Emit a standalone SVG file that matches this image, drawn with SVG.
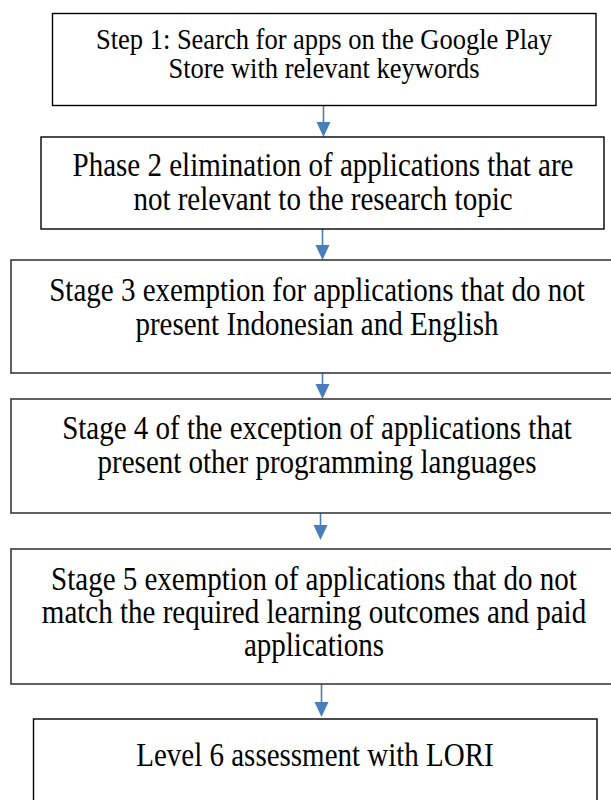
<svg xmlns="http://www.w3.org/2000/svg" width="611" height="800" viewBox="0 0 611 800">
<style>
.box{fill:#fff;stroke:#000;stroke-width:1.4}
.box2{fill:#fff;stroke:#3a3a3a;stroke-width:1.6}
text{font-family:'Liberation Serif','Times New Roman',serif;fill:#000;text-anchor:middle}
.s1{font-size:26.5px}
.s2{font-size:29px}
.conn{stroke:#4a7ebb;stroke-width:1.6;fill:none}
.head{fill:#4a7ebb}
</style>
<rect width="611" height="800" fill="#fff"/>
<g id="connectors">
<line class="conn" x1="323.5" y1="106" x2="323.5" y2="124"/>
<path class="head" d="M316.5,122 L330.5,122 L323.5,137 Z"/>
<line class="conn" x1="322.5" y1="229" x2="322.5" y2="247"/>
<path class="head" d="M315.5,245 L329.5,245 L322.5,260 Z"/>
<line class="conn" x1="322.5" y1="367" x2="322.5" y2="386"/>
<path class="head" d="M315.5,384 L329.5,384 L322.5,399 Z"/>
<line class="conn" x1="320.5" y1="507" x2="320.5" y2="527"/>
<path class="head" d="M313.5,525 L327.5,525 L320.5,540 Z"/>
<line class="conn" x1="321.5" y1="683" x2="321.5" y2="704"/>
<path class="head" d="M314.5,702 L328.5,702 L321.5,717 Z"/>
</g>
<g id="step1">
<rect class="box" x="52.5" y="13.5" width="543.5" height="92"/>
<text class="s1" transform="translate(324,49) scale(1,1.13)">Step 1: Search for apps on the Google Play</text>
<text class="s1" transform="translate(324,78) scale(1,1.13)">Store with relevant keywords</text>
</g>
<g id="phase2">
<rect class="box" x="41" y="137" width="563" height="92"/>
<text class="s2" transform="translate(323,176) scale(1,1.13)">Phase 2 elimination of applications that are</text>
<text class="s2" transform="translate(323,210) scale(1,1.13)">not relevant to the research topic</text>
</g>
<g id="stage3">
<rect class="box2" x="11" y="260" width="630" height="113"/>
<text class="s2" transform="translate(317,301) scale(1,1.13)">Stage 3 exemption for applications that do not</text>
<text class="s2" transform="translate(317,335) scale(1,1.13)">present Indonesian and English</text>
</g>
<g id="stage4">
<rect class="box2" x="11" y="399" width="630" height="114"/>
<text class="s2" transform="translate(317,439) scale(1,1.13)">Stage 4 of the exception of applications that</text>
<text class="s2" transform="translate(317,473) scale(1,1.13)">present other programming languages</text>
</g>
<g id="stage5">
<rect class="box2" x="11" y="549" width="630" height="135"/>
<text class="s2" transform="translate(314,590) scale(1,1.13)">Stage 5 exemption of applications that do not</text>
<text class="s2" transform="translate(314,623) scale(1,1.13)">match the required learning outcomes and paid</text>
<text class="s2" transform="translate(314,656) scale(1,1.13)">applications</text>
</g>
<g id="level6">
<rect class="box" x="33.5" y="719" width="563.5" height="100"/>
<text class="s2" transform="translate(315,766) scale(1,1.13)">Level 6 assessment with LORI</text>
</g>
</svg>
